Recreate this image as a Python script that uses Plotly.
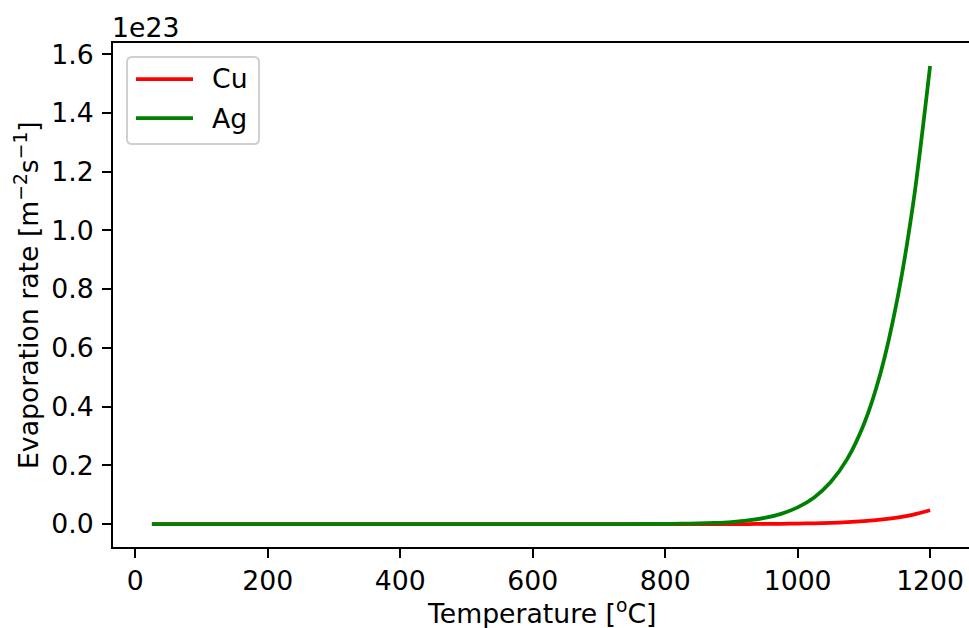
import plotly.graph_objects as go

# ---- data (values in units of 1e23 m^-2 s^-1) ----
temperature_c = [25, 200, 400, 600, 700, 750, 800, 825, 850, 875, 900, 925, 950,
                 975, 1000, 1025, 1050, 1075, 1100, 1125, 1150, 1175, 1200]
cu_rate = [0, 0, 0, 0, 0, 0.000003, 0.00001, 0.00002, 0.00004, 0.00009, 0.00017,
           0.0003, 0.00055, 0.00095, 0.0016, 0.0026, 0.0042, 0.0065, 0.0100,
           0.0150, 0.0222, 0.0325, 0.047]
ag_rate = [0, 0, 0, 0, 0.00003, 0.00015, 0.00063, 0.0012, 0.0022, 0.0040, 0.0071,
           0.0123, 0.021, 0.0348, 0.0567, 0.0907, 0.143, 0.222, 0.34, 0.513,
           0.76, 1.10, 1.56]
series_names = ["Cu", "Ag"]
series_colors = ["#ff0000", "#008000"]
x_ticks = [0, 200, 400, 600, 800, 1000, 1200]
y_ticks = [0.0, 0.2, 0.4, 0.6, 0.8, 1.0, 1.2, 1.4, 1.6]
x_title = "Temperature [<sup>o</sup>C]"
y_title = "Evaporation rate [m<sup>\u22122</sup>s<sup>\u22121</sup>]"
offset_label = "1e23"

FONT = "DejaVu Sans"
FS = 26.7
W, H = 969, 628
ML, MR, MT, MB = 113, 0, 43, 81
PW, PH = W - ML - MR, H - MT - MB

fig = go.Figure()
for name, color, vals in zip(series_names, series_colors, [cu_rate, ag_rate]):
    fig.add_trace(go.Scatter(x=temperature_c, y=vals, mode="lines", name=name,
                             line=dict(color=color, width=3.75, shape="spline", smoothing=0.8),
                             showlegend=False, hoverinfo="skip"))

xmin, xmax = min(temperature_c), max(temperature_c)
ymax = max(max(cu_rate), max(ag_rate))
xpad = 0.05 * (xmax - xmin)
ypad = 0.05 * ymax

tickfont = dict(family=FONT, size=FS, color="black")
fig.update_xaxes(range=[xmin - xpad, xmax + xpad], tickvals=x_ticks,
                 ticktext=[str(v) for v in x_ticks], automargin=False,
                 showgrid=False, zeroline=False, showline=True, linecolor="black",
                 linewidth=2, mirror=True, ticks="outside", ticklen=9, tickwidth=2,
                 tickcolor="black", tickfont=tickfont, ticklabelstandoff=0)
fig.update_yaxes(range=[-ypad, ymax + ypad], tickvals=y_ticks,
                 ticktext=[f"{v:.1f}" for v in y_ticks], automargin=False,
                 showgrid=False, zeroline=False, showline=True, linecolor="black",
                 linewidth=2, mirror=False, ticks="outside", ticklen=9, tickwidth=2,
                 tickcolor="black", tickfont=tickfont, ticklabelstandoff=3)

def px2paper(px, py):
    return (px - ML) / PW, 1 - (py - MT) / PH

# axis titles as annotations
fig.add_annotation(text=x_title, x=0.5, y=0, xref="paper", yref="paper",
                   xanchor="center", yanchor="middle", showarrow=False,
                   yshift=-(612 - (MT + PH)), font=tickfont)
fig.add_annotation(text=y_title, x=0, y=0.5, xref="paper", yref="paper",
                   xanchor="center", yanchor="middle", showarrow=False, textangle=-90,
                   xshift=27 - ML, font=tickfont)
# offset label
fig.add_annotation(text=offset_label, x=0, y=1, xref="paper", yref="paper", xanchor="left",
                   yanchor="middle", showarrow=False, xshift=-3, yshift=MT - 27,
                   font=tickfont)

# custom legend box (rounded)
x0, y0 = px2paper(127, 57)
x1, y1 = px2paper(259, 144)
rx, ry = 5 / PW, 5 / PH
path = (f"M{x0+rx},{y0} L{x1-rx},{y0} Q{x1},{y0} {x1},{y0-ry} "
        f"L{x1},{y1+ry} Q{x1},{y1} {x1-rx},{y1} L{x0+rx},{y1} Q{x0},{y1} {x0},{y1+ry} "
        f"L{x0},{y0-ry} Q{x0},{y0} {x0+rx},{y0} Z")
fig.add_shape(type="path", path=path, xref="paper", yref="paper",
              line=dict(color="#d0d0d0", width=2), fillcolor="rgba(255,255,255,0.8)")
for i, (name, color) in enumerate(zip(series_names, series_colors)):
    ry_px = 79 + i * 39
    lx0, ly = px2paper(136, ry_px)
    lx1, _ = px2paper(193, ry_px)
    fig.add_shape(type="line", x0=lx0, x1=lx1, y0=ly, y1=ly, xref="paper", yref="paper",
                  line=dict(color=color, width=3.75))
    tx, _ = px2paper(210, ry_px)
    fig.add_annotation(text=name, x=tx, y=ly, xref="paper", yref="paper",
                       xanchor="left", yanchor="middle", showarrow=False, font=tickfont)

fig.update_layout(width=W, height=H, margin=dict(l=ML, r=MR, t=MT, b=MB),
                  plot_bgcolor="white", paper_bgcolor="white", hovermode=False,
                  font=dict(family=FONT, size=FS, color="black"))

fig.write_html("out.html", config={"displayModeBar": False},
               post_script="document.body.style.margin='0px';document.body.style.overflow='hidden';")
